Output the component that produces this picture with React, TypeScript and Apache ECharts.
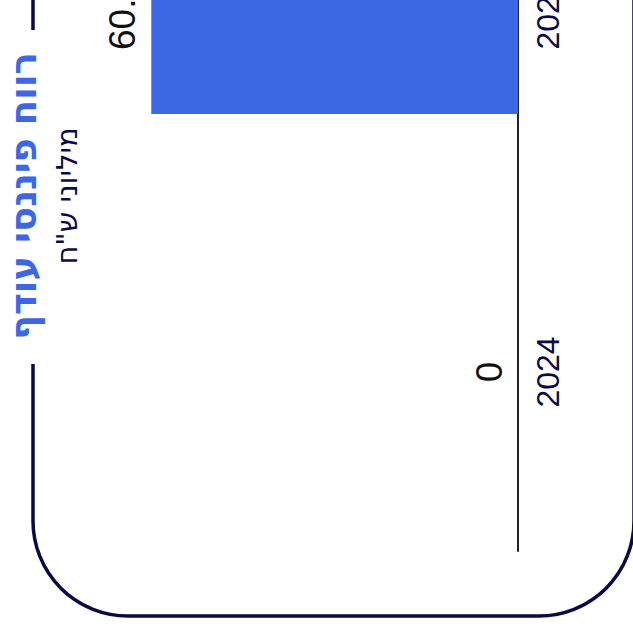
import React, { useEffect, useRef } from "react";
import * as echarts from "echarts";

const categories: string[] = ["2024", "2025"];
const values: number[] = [0, 60.4];
const axisMax = 70;
const titleText = "רווח פיננסי עודף";
const subtitleText = 'מיליוני ש"ח';

const NAVY = "#0a0a46";
const BLUE = "#3d67e3";
const FONT = "'Liberation Sans', Arial, sans-serif";
const HEB_FONT = "'DejaVu Sans', sans-serif";
const OFF = 165; // chart extends above the visible window

export default function App() {
  const ref = useRef<HTMLDivElement>(null);
  useEffect(() => {
    if (!ref.current) return;
    const chart = echarts.init(ref.current, null, { renderer: "svg" });
    chart.setOption({
      animation: false,
      backgroundColor: "#ffffff",
      grid: { left: 93, right: 115, top: 0, bottom: 87, containLabel: false },
      xAxis: {
        type: "value",
        inverse: true,
        min: 0,
        max: axisMax,
        show: false,
      },
      yAxis: {
        type: "category",
        position: "right",
        data: categories,
        axisLine: { show: true, lineStyle: { color: "#222222", width: 2 } },
        axisTick: { show: false },
        axisLabel: {
          rotate: 90,
          margin: 14,
          fontSize: 32,
          fontFamily: FONT,
          color: NAVY,
        },
        splitLine: { show: false },
      },
      series: [
        {
          type: "bar",
          data: values,
          barWidth: 200,
          itemStyle: { color: BLUE },
          label: {
            show: true,
            position: "left",
            rotate: 90,
            align: "center",
            verticalAlign: "bottom",
            distance: 10,
            fontSize: 37,
            fontFamily: FONT,
            color: "#111111",
          },
        },
      ],
      graphic: [
        {
          type: "rect",
          z: 10,
          shape: { x: 33, y: 20, width: 601, height: 616 + OFF - 20, r: 95 },
          style: { fill: "none", stroke: NAVY, lineWidth: 3.5 },
        },
        {
          type: "rect",
          z: 11,
          shape: { x: 26, y: 30 + OFF, width: 14, height: 334 },
          style: { fill: "#ffffff" },
        },
        {
          type: "text",
          z: 12,
          x: 23,
          y: 196 + OFF,
          rotation: Math.PI / 2,
          style: {
            text: titleText,
            fill: BLUE,
            font: `bold 37px ${HEB_FONT}`,
            align: "center",
            verticalAlign: "middle",
          },
        },
        {
          type: "text",
          z: 12,
          x: 67,
          y: 196 + OFF,
          rotation: Math.PI / 2,
          style: {
            text: subtitleText,
            fill: NAVY,
            font: `29px ${HEB_FONT}`,
            align: "center",
            verticalAlign: "middle",
          },
        },
      ],
    });
    return () => chart.dispose();
  }, []);
  return (
    <div
      ref={ref}
      style={{ position: "fixed", left: 0, top: -OFF, width: 633, height: 638 + OFF, background: "#fff" }}
    />
  );
}
